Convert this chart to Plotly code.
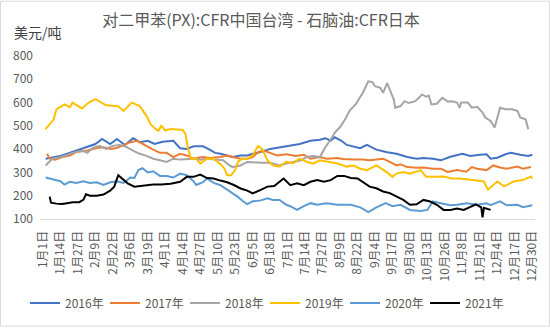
import pandas as pd
import plotly.graph_objects as go

# Shared calendar axis (leap-year calendar, 366 days); x values are day-of-year offsets from 1月1日
calendar = pd.date_range("2020-01-01", "2020-12-31", freq="D")
tick_days = list(range(0, 366, 13))
tick_text = [f"{calendar[d].month}月{calendar[d].day}日" for d in tick_days]

y_ticks = [100, 200, 300, 400, 500, 600, 700, 800]

series_names = ["2016年", "2017年", "2018年", "2019年", "2020年", "2021年"]
series_colors = ["#4472C4", "#ED7D31", "#A5A5A5", "#FFC000", "#5B9BD5", "#000000"]

day_2016 = [2, 13, 18, 22, 28, 35, 39, 44, 50, 55, 61, 67, 72, 78, 83, 89, 97, 102, 107, 112, 119, 124,
            128, 132, 137, 141, 147, 152, 156, 162, 169, 176, 183, 191, 199, 206, 210, 214, 217, 222, 226,
            229, 236, 241, 248, 256, 263, 271, 278, 283, 290, 296, 303, 312, 318, 325, 330, 333, 338, 344,
            348, 355, 361, 364]
val_2016 = [359, 371, 380, 388, 401, 414, 422, 444, 422, 444, 418, 447, 430, 436, 422, 432, 436, 404, 401, 412, 412, 398,
            384, 380, 373, 366, 373, 373, 380, 388, 401, 408, 414, 422, 436, 440, 447, 436, 451, 436, 418,
            413, 404, 418, 398, 387, 380, 366, 359, 362, 359, 352, 367, 380, 371, 376, 378, 359, 363, 378,
            384, 376, 371, 376]

day_2017 = [3, 5, 9, 15, 20, 25, 33, 40, 45, 50, 55, 60, 65, 70, 74, 81, 87, 92, 97, 102, 107, 112, 119,
            124, 132, 137, 141, 147, 152, 156, 160, 164, 169, 174, 181, 188, 194, 199, 206, 211, 219, 223,
            231, 238, 243, 253, 258, 263, 266, 271, 278, 283, 290, 296, 301, 308, 315, 319, 323, 330, 335,
            340, 345, 353, 357, 363]
val_2017 = [380, 359, 355, 367, 373, 388, 394, 405, 408, 401, 405, 418, 430, 436, 422, 401, 384, 384, 366, 380, 373, 359,
            366, 362, 366, 373, 366, 359, 359, 366, 387, 394, 384, 373, 378, 371, 376, 359, 366, 359, 362, 358,
            356, 356, 352, 359, 345, 330, 335, 323, 320, 321, 316, 316, 302, 310, 303, 323, 316, 310, 330,
            321, 316, 325, 316, 323]

day_2018 = [2, 7, 13, 18, 22, 29, 33, 37, 42, 47, 52, 57, 62, 67, 72, 77, 82, 87, 92, 97, 102, 112, 117,
            122, 129, 134, 138, 141, 147, 152, 162, 167, 171, 176, 181, 187, 192, 196, 201, 206, 210, 214,
            217, 221, 225, 228, 233, 235, 238, 242, 245, 247, 251, 253, 256, 258, 261, 262, 266, 269, 272,
            277, 282, 285, 287, 289, 293, 297, 301, 304, 308, 310, 311, 316, 319, 323, 327, 329, 333, 336,
            340, 344, 349, 353, 355, 359, 361]
val_2018 = [330, 359, 365, 376, 384, 394, 384, 405, 414, 401, 414, 418, 410, 394, 380, 371, 359, 352, 345, 359, 355, 359, 355,
            359, 356, 352, 333, 323, 330, 345, 342, 342, 338, 330, 338, 345, 352, 366, 371, 366, 408, 440,
            470, 495, 530, 565, 595, 615, 642, 691, 688, 670, 663, 642, 684, 656, 613, 578, 585, 606, 598,
            606, 635, 625, 630, 592, 595, 620, 605, 606, 600, 578, 600, 600, 578, 582, 557, 536, 521, 493,
            578, 571, 571, 564, 536, 528, 486]

day_2019 = [2, 8, 10, 16, 20, 22, 29, 34, 39, 42, 47, 56, 60, 66, 72, 77, 80, 84, 86, 88, 91, 95, 100,
            104, 106, 108, 110, 114, 117, 122, 127, 133, 135, 137, 140, 143, 145, 148, 152, 156, 160, 163,
            167, 171, 176, 181, 186, 191, 196, 201, 206, 212, 219, 226, 231, 236, 241, 248, 256, 260, 263,
            268, 273, 281, 285, 290, 298, 304, 310, 320, 328, 331, 338, 343, 350, 357, 363, 364]
val_2019 = [486, 528, 571, 592, 580, 600, 575, 600, 615, 606, 588, 584, 564, 600, 585, 543, 507, 486, 479, 500, 480, 486, 484,
            482, 465, 401, 359, 359, 338, 359, 359, 330, 316, 288, 288, 310, 345, 359, 359, 373, 414, 401,
            352, 330, 325, 346, 340, 359, 346, 338, 352, 345, 338, 325, 330, 316, 310, 330, 300, 281, 295,
            302, 295, 310, 281, 281, 282, 274, 274, 267, 261, 226, 261, 240, 261, 267, 282, 274]

day_2020 = [2, 8, 13, 16, 20, 25, 30, 35, 40, 45, 50, 55, 60, 65, 68, 71, 74, 78, 82, 87, 92, 97, 102,
            107, 112, 114, 119, 122, 127, 132, 137, 141, 145, 149, 152, 156, 162, 167, 171, 176, 181, 184,
            189, 194, 199, 204, 211, 219, 229, 236, 242, 248, 255, 260, 266, 273, 281, 286, 290, 296, 303,
            308, 315, 323, 330, 333, 340, 345, 353, 357, 364]
val_2020 = [278, 270, 262, 248, 260, 255, 262, 255, 258, 246, 258, 262, 255, 278, 276, 310, 318, 300, 305, 285, 285, 278, 295,
            288, 262, 246, 258, 274, 255, 245, 225, 212, 195, 175, 164, 176, 180, 189, 182, 182, 161, 155,
            139, 155, 168, 161, 168, 161, 161, 150, 130, 150, 168, 155, 161, 139, 134, 139, 176, 168, 159,
            161, 168, 161, 168, 159, 176, 159, 161, 151, 159]

day_2021 = [5, 6, 10, 14, 18, 22, 27, 30, 32, 35, 40, 45, 50, 53, 56, 60, 63, 68, 72, 77, 82, 88, 95,
            102, 107, 112, 117, 122, 127, 132, 137, 142, 147, 152, 156, 162, 167, 172, 176, 179, 184, 189,
            194, 199, 204, 209, 214, 219, 224, 229, 234, 238, 243, 248, 253, 258, 263, 268, 273, 278, 283,
            288, 293, 298, 303, 308, 313, 318, 322, 326, 327, 328, 333]
val_2021 = [196, 170, 166, 164, 168, 172, 172, 182, 206, 200, 200, 205, 222, 239, 288, 270, 253, 239, 242, 246, 248, 248, 251,
            260, 281, 281, 291, 276, 274, 265, 258, 246, 231, 222, 210, 225, 239, 242, 260, 274, 245, 253,
            245, 260, 267, 260, 267, 285, 285, 276, 274, 260, 239, 232, 218, 211, 196, 182, 161, 163, 182,
            175, 161, 139, 139, 145, 139, 152, 163, 150, 107, 148, 139]

all_days = [day_2016, day_2017, day_2018, day_2019, day_2020, day_2021]
all_vals = [val_2016, val_2017, val_2018, val_2019, val_2020, val_2021]

TEXT = "#595959"
CJK = "Noto Sans CJK SC, Microsoft YaHei, sans-serif"

fig = go.Figure()
for name, color, xs, ys in zip(series_names, series_colors, all_days, all_vals):
    fig.add_trace(go.Scatter(x=xs, y=ys, mode="lines", name=name,
                             line=dict(color=color, width=2)))

W, H = 550, 330
L, R, T, B = 40, 15, 56, 109
pw, ph = W - L - R, H - T - B


def px(x):
    return (x - L) / pw


def py(y):
    return (H - B - y) / ph


fig.update_layout(
    width=W, height=H,
    margin=dict(l=L, r=R, t=T, b=B),
    paper_bgcolor="white", plot_bgcolor="white",
    font=dict(family=CJK, size=12, color=TEXT),
    title=dict(text="对二甲苯(PX):CFR中国台湾 - 石脑油:CFR日本",
               x=261 / W, xref="container", xanchor="center",
               y=1 - 20 / H, yref="container", yanchor="middle",
               font=dict(family=CJK, size=16, color=TEXT)),
    xaxis=dict(range=[-2.2, 366], tickmode="array", tickvals=tick_days, ticktext=tick_text,
               tickangle=-90, showgrid=False, zeroline=False, showline=True,
               linecolor="#D9D9D9", linewidth=1, ticks="", ticklabelstandoff=6,
               tickfont=dict(family=CJK, size=12, color=TEXT)),
    yaxis=dict(range=[100, 800], tickmode="array", tickvals=y_ticks,
               showgrid=False, zeroline=False, showline=False, ticks="",
               ticklabelstandoff=6, tickfont=dict(family=CJK, size=12, color=TEXT)),
    legend=dict(orientation="h", x=px(265), xanchor="center", y=py(306), yanchor="middle",
                entrywidth=35, font=dict(family=CJK, size=12, color=TEXT),
                bgcolor="rgba(0,0,0,0)"),
    showlegend=True,
)

fig.add_annotation(text="美元/吨", xref="paper", yref="paper", x=px(12), y=py(32),
                   xanchor="left", yanchor="middle", showarrow=False,
                   font=dict(family=CJK, size=14, color="#404040"))

# thin outer frame around the chart
fig.add_shape(type="rect", xref="paper", yref="paper",
              x0=px(0.5), x1=px(W - 0.5), y0=py(H - 0.5), y1=py(0.5),
              line=dict(color="#D9D9D9", width=1), fillcolor="rgba(0,0,0,0)", layer="below")

fig.write_html("out.html")
